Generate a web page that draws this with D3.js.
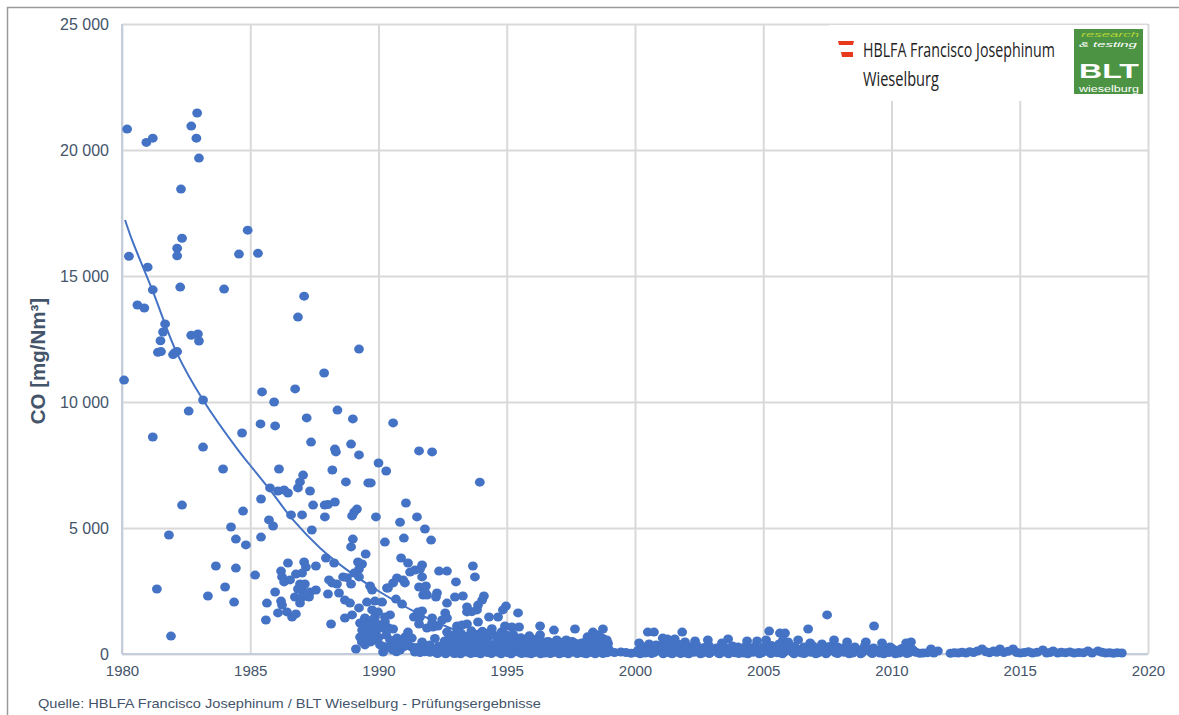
<!DOCTYPE html>
<html>
<head>
<meta charset="utf-8">
<script src="https://cdn.jsdelivr.net/npm/d3@7"></script>
<style>
  html, body { margin: 0; padding: 0; background: #fff; }
  svg { display: block; font-family: "Liberation Sans", Arial, sans-serif; }
</style>
</head>
<body>
<div id="chart"></div>
<script>
// values, [year, CO]
const points1980s = [
  [1980.2,20830],[1980.95,20300],[1981.2,20470],[1982.7,20950],[1982.93,21470],[1982.9,20470],[1983,19680],[1982.3,18450],
  [1984.9,16820],[1982.34,16500],[1984.56,15870],[1985.3,15900],[1982.15,16100],[1982.15,15800],[1980.27,15780],[1981,15350],
  [1981.2,14450],[1982.27,14560],[1983.98,14480],[1987.1,14200],[1980.6,13850],[1980.87,13730],[1986.86,13370],[1981.68,13100],
  [1981.6,12780],[1981.5,12430],[1982.7,12650],[1982.96,12700],[1983,12420],[1981.4,11970],[1981.52,12000],[1981.99,11880],
  [1982.15,12000],[1982.05,11950],[1989.24,12100],[1987.88,11150],[1980.08,10870],[1986.75,10520],[1985.46,10400],[1985.93,10000],
  [1983.16,10080],[1982.6,9640],[1988.4,9680],[1989,9330],[1987.2,9370],[1990.57,9170],[1985.4,9130],[1985.97,9050],
  [1984.68,8770],[1981.2,8610],[1987.37,8410],[1988.93,8330],[1983.16,8210],[1988.3,8130],[1988.34,8020],[1989.24,7900],
  [1991.58,8060],[1992.09,8020],[1990,7580],[1990.3,7260],[1986.12,7340],[1983.94,7340],[1988.2,7300],[1993.95,6820]
];
const pointsMiddle = [
  [1982.34,5910],[1984.72,5670],[1985.42,6150],[1985.77,6590],[1986.08,6470],[1986.32,6510],[1986.47,6390],[1986.86,6590],
  [1986.94,6830],[1987.06,7100],[1987.33,6470],[1987.45,5910],[1988.73,6830],[1989.6,6790],[1989.7,6790],[1987.9,5910],
  [1988.03,5930],[1988.3,6030],[1989.16,5750],[1989.05,5630],[1988.97,5480],[1989.9,5440],[1986.59,5520],[1987.02,5520],
  [1987.91,5440],[1985.73,5320],[1985.89,5080],[1987.4,4920],[1984.25,5040],[1981.83,4720],[1984.44,4560],[1984.83,4330],
  [1985.42,4640],[1989,4560],[1988.93,4250],[1989.5,3970],[1990.25,4440],[1987.95,3810],[1988.27,3610],[1989.2,3650],
  [1989.36,3570],[1989.24,3370],[1989.05,3210],[1989.24,3060],[1988.62,3060],[1988.77,3030],[1983.66,3490],[1984.44,3410],
  [1985.19,3130],[1986.47,3610],[1987.1,3650],[1987.17,3450],[1987.56,3490],[1986.2,3290],[1986.24,3060],[1986.32,2860],
  [1986.55,2940],[1986.78,3170],[1987.02,3210],[1988.07,2940],[1988.19,2820],[1988.38,2780],[1988.93,2780],[1989.67,2700],
  [1989.75,2540],[1990.33,2620],[1986.94,2780],[1987.13,2780],[1986.86,2580],[1987.02,2540],[1987.56,2540],[1987.33,2460],
  [1987.29,2260],[1986.74,2260],[1986.94,2020],[1987.02,2260],[1985.97,2460],[1986.2,2100],[1986.24,1940],[1985.65,2020],
  [1986.08,1630],[1986.43,1670],[1986.63,1470],[1986.78,1590],[1985.61,1350],[1988.03,2380],[1988.46,2420],[1988.69,2140],
  [1988.89,2020],[1989.24,1830],[1989.55,2060],[1989.86,2100],[1990.14,2060],[1988.97,1550],[1988.69,1430],[1988.15,1190],
  [1989.12,200],[1984.02,2660],[1981.36,2580],[1983.35,2300],[1984.37,2060],[1981.91,710],
  [1991.07,5990],[1991.5,5440],[1991.81,4960],[1992.05,4520],[1990.99,4600],[1990.84,5230]
];
const points1990s = [
  [1990.88,3810],[1991.15,3610],[1991.7,3530],[1991.62,3370],[1991.23,3250],[1991.42,3330],[1991.7,3060],[1992.36,3290],
  [1992.67,3290],[1993.68,3490],[1993.76,3060],[1993.02,2860],[1990.72,3020],[1990.96,2940],[1991.03,2820],[1990.57,2820],
  [1990.37,2620],[1991.58,2660],[1991.85,2700],[1991.81,2460],[1991.74,2340],[1991.89,2340],[1992.28,2420],[1992.24,2260],
  [1992.98,2260],[1993.29,2300],[1994.11,2300],[1994.04,2140],[1993.88,1940],[1993.84,1750],[1993.45,1870],[1993.45,1670],
  [1993.64,1680],[1992.67,2020],[1994.97,1900],[1994.85,1750],[1995.44,1630],[1990.68,2180],[1990.92,1980],[1991.7,1710],
  [1991.54,1670],[1991.38,1470],[1991.62,1470],[1991.58,1190],[1992.09,1430],[1991.89,1030],[1992.12,1070],[1992.32,1110],
  [1992.09,1230],[1992.6,1630],[1992.67,1430],[1992.48,1350],[1992.67,870],[1993.06,1110],[1993.45,1190],[1993.26,1150],
  [1993.88,1270],[1994.31,1470],[1994.66,1470],[1994.93,1110],[1995.2,1070],[1995.48,1070],[1996.3,1110],[1996.84,950],
  [1997.66,990],[1998.75,990],[1998.36,870],
  [1989.47,1430],[1989.86,1470],[1989.75,1750],[1989.98,1670],[1990.45,1550],[1990.25,1470],[1989.28,1230],[1989.55,1150],
  [1989.79,1230],[1990.18,1030],[1990.57,990],[1989.36,950],[1989.75,830],[1989.28,670],[1989.6,670],[1989.47,360],
  [1989.86,560],[1990.06,360],[1990.18,80],[1990.45,560],[1990.72,630],[1990.57,160],[1990.84,160],[1991.15,870],
  [1991.03,670],[1991.3,630],[1991.3,280],[1991.7,480],[1991.42,80],[1992,360],[1991.62,60],[1992,70],
  [1989.4,1000],[1989.5,780],[1989.65,1040],[1989.9,880],[1990,650],[1990.3,750],[1989.7,480],[1990.2,300],
  [1990.4,240],[1990.7,90],[1991.5,260],[1991.85,190],[1992.25,50],[1992.45,90],[1992.6,330],[1992.75,620],
  [1992.9,250],[1993.05,40],[1993.15,600],[1993.3,320],[1993.42,80],[1993.55,680],[1993.68,260],[1993.8,50],
  [1993.95,520],[1994.05,900],[1994.12,240],[1994.25,60],[1994.3,700],[1994.42,1000],[1994.5,380],[1994.62,80],
  [1994.72,620],[1994.85,250],[1994.98,760],[1995.05,50],[1995.15,420],[1995.25,780],[1995.36,210],[1995.48,70],
  [1995.55,640],[1995.68,350],[1995.78,40],[1995.88,720],[1996,300],[1996.08,60],[1996.18,600],[1996.3,760],
  [1996.4,220],[1996.5,40],[1996.62,500],[1996.75,260],[1996.88,70],[1996.98,430],[1997.1,230],[1997.2,50],
  [1997.32,560],[1997.45,300],[1997.58,80],[1997.7,420],[1997.85,190],[1997.98,40],[1998.05,470],[1998.15,680],
  [1998.22,220],[1998.32,60],[1998.42,560],[1998.5,760],[1998.58,310],[1998.66,80],[1998.75,620],[1998.82,260],
  [1998.9,50],[1998.95,420],[1998.98,180]
];
// the solid mass along the bottom, 1989 to 1999
const dense1990s = [
  [1989.35,480],[1989.42,1220],[1989.55,900],[1989.58,540],[1989.72,1330],[1989.95,1180],[1990.25,1280],[1990.38,1040],
  [1990.5,340],[1990.75,420],[1990.9,560],[1991.02,300],[1991.12,420],[1991.55,120],[1991.7,240],[1991.8,90],
  [1991.95,200],[1992.1,110],[1992.2,620],[1992.35,320],[1992.52,140],[1992.58,520],[1992.7,100],[1992.82,420],
  [1992.9,120],[1992.98,780],[1993.08,330],[1993.12,120],[1993.22,820],[1993.25,450],[1993.35,130],[1993.48,470],
  [1993.5,150],[1993.62,920],[1993.65,470],[1993.72,130],[1993.85,420],[1993.88,780],[1994,140],[1994.02,360],
  [1994.15,600],[1994.18,110],[1994.35,380],[1994.38,130],[1994.48,760],[1994.55,180],[1994.68,400],[1994.7,140],
  [1994.8,880],[1994.88,430],[1994.92,120],[1995.02,480],[1995.1,170],[1995.22,560],[1995.28,130],[1995.42,460],
  [1995.45,180],[1995.6,240],[1995.62,120],[1995.72,560],[1995.82,210],[1995.95,480],[1995.98,130],[1996.1,420],
  [1996.15,190],[1996.25,120],[1996.35,520],[1996.45,330],[1996.55,140],[1996.68,360],[1996.72,130],[1996.82,420],
  [1996.92,190],[1997.02,120],[1997.08,400],[1997.15,150],[1997.25,340],[1997.38,180],[1997.42,410],[1997.52,140],
  [1997.65,350],[1997.75,120],[1997.8,310],[1997.92,150],[1998.02,300],[1998.1,120],[1998.18,440],[1998.28,170],
  [1998.38,340],[1998.46,130],[1998.55,480],[1998.62,170],[1998.7,400],[1998.78,120],[1998.86,360],[1998.92,130],
  [1999.02,90],
  [1993.1,610],[1993.38,690],[1993.75,640],[1994.22,810],[1994.58,700],[1994.75,520],[1995.1,680],[1995.32,600],
  [1995.5,520],[1995.8,620],[1996.05,560],[1996.22,450],[1996.55,480],[1996.95,560],[1997.22,480],[1997.55,500],
  [1997.92,440],[1998.25,600],[1998.62,700],[1998.9,560],
  [1992.3,20],[1992.62,10],[1992.95,15],[1993.2,5],[1993.6,15],[1993.98,5],[1994.4,15],[1994.78,10],
  [1995.18,5],[1995.58,15],[1995.95,10],[1996.32,5],[1996.7,15],[1997.05,10],[1997.4,5],[1997.75,15],
  [1998.1,10],[1998.45,5],[1998.75,15]
];
const points2000s = [
  [1999.2,60],[1999.45,80],[1999.65,60],[1999.85,30],[2000.16,440],[2000.5,870],[2000.74,870],[2001.08,630],
  [2001.26,600],[2001.84,870],[2001.55,600],[2001.95,480],[2002.34,520],[2002.84,560],[2003.63,600],[2003.39,440],
  [2004.02,280],[2004.37,520],[2004.76,520],[2005.23,910],[2005.11,560],[2005.65,830],[2005.85,830],[2005.77,560],
  [2005.97,480],[2006.36,560],[2006.75,990],[2006.83,440],[2007.49,1550],[2007.29,400],[2007.76,560],[2008.27,480],
  [2008.57,280],[2009,480],[2009.32,1110],[2009.63,440],[2009.94,280],[2010.57,440],[2010.76,480],[2010.84,160],
  [2011.23,40],[2011.54,200],[2011.81,120],
  [2000.05,60],[2000.25,180],[2000.4,40],[2000.6,280],[2000.75,60],[2000.9,330],[2001.05,90],[2001.2,310],
  [2001.35,50],[2001.5,230],[2001.68,70],[2001.85,300],[2002,40],[2002.15,260],[2002.3,70],[2002.48,210],
  [2002.62,40],[2002.8,250],[2002.95,80],[2003.1,170],[2003.25,40],[2003.4,240],[2003.55,70],[2003.72,220],
  [2003.9,50],[2004.1,120],[2004.25,40],[2004.45,230],[2004.6,70],[2004.78,200],[2004.95,50],[2005.1,260],
  [2005.25,80],[2005.4,220],[2005.55,50],[2005.7,320],[2005.85,100],[2006,250],[2006.15,60],[2006.3,200],
  [2006.5,40],[2006.68,230],[2006.85,70],[2007,240],[2007.15,50],[2007.35,180],[2007.5,70],[2007.65,280],
  [2007.82,50],[2008,220],[2008.15,70],[2008.3,200],[2008.48,40],[2008.7,160],[2008.85,50],[2009.05,230],
  [2009.2,70],[2009.4,160],[2009.55,40],[2009.75,200],[2009.9,60],[2010.1,170],[2010.3,40],[2010.5,150],
  [2010.68,50],[2010.95,70],[2011.1,30],[2011.4,50],[2011.65,40]
];
// same again for the band 2000 to 2011
const dense2000s = [
  [2000.12,150],[2000.3,290],[2000.48,120],[2000.55,400],[2000.68,190],[2000.82,360],[2000.95,140],[2001.12,400],
  [2001.28,170],[2001.42,350],[2001.58,140],[2001.72,380],[2001.92,150],[2002.08,300],[2002.22,170],[2002.4,340],
  [2002.55,130],[2002.7,260],[2002.88,330],[2003.02,150],[2003.18,240],[2003.32,130],[2003.48,280],[2003.62,150],
  [2003.8,320],[2003.98,140],[2004.18,190],[2004.32,310],[2004.52,140],[2004.68,300],[2004.85,130],[2005.02,280],
  [2005.18,160],[2005.32,340],[2005.48,150],[2005.62,400],[2005.78,180],[2005.92,340],[2006.08,150],[2006.22,300],
  [2006.4,130],[2006.58,280],[2006.76,150],[2006.92,330],[2007.08,150],[2007.22,280],[2007.42,130],[2007.58,300],
  [2007.72,160],[2007.9,280],[2008.08,140],[2008.22,290],[2008.4,130],[2008.6,150],[2008.78,130],[2008.95,300],
  [2009.12,140],[2009.3,240],[2009.48,120],[2009.68,280],[2009.82,130],[2010,240],[2010.2,130],[2010.4,220],
  [2010.6,140],[2010.75,250],
  [2000.2,10],[2000.65,15],[2001.1,5],[2001.45,10],[2001.78,15],[2002.1,5],[2002.55,10],[2002.9,15],
  [2003.3,5],[2003.65,10],[2004.05,15],[2004.4,5],[2004.85,10],[2005.3,15],[2005.75,5],[2006.2,10],
  [2006.6,15],[2007.05,5],[2007.45,10],[2007.9,15],[2008.35,5],[2008.8,10],[2009.25,15],[2009.7,5],
  [2010.15,10],[2010.6,15]
];
const points2010s = [
  [2012.3,30],[2012.45,50],[2012.6,40],[2012.75,70],[2012.9,40],[2013.05,90],[2013.2,60],[2013.35,120],
  [2013.53,200],[2013.68,90],[2013.82,50],[2013.98,120],[2014.1,70],[2014.23,200],[2014.38,60],[2014.55,110],
  [2014.74,200],[2014.88,60],[2015.02,40],[2015.18,60],[2015.34,90],[2015.5,40],[2015.68,70],[2015.9,160],
  [2016.05,40],[2016.18,60],[2016.3,120],[2016.48,40],[2016.62,70],[2016.78,50],[2016.95,80],[2017.12,40],
  [2017.3,60],[2017.48,50],[2017.66,120],[2017.82,40],[2018.05,120],[2018.2,70],[2018.35,40],[2018.5,50],
  [2018.65,30],[2018.8,50],[2018.98,40]
];
const trendYears = [1980.12,1980.39,1981.17,1982.14,1983.16,1984.52,1984.99,1985.77,1986.67,1987.72,1988.89,1990.06,1991.5,1992.79,1993.88,1994.3];
const trendValues = [17220,16430,14480,11940,10080,8100,7500,6510,5320,4210,3250,2460,1630,1030,670,520];
const xTicks = [1980,1985,1990,1995,2000,2005,2010,2015,2020];
const yTicks = [0,5000,10000,15000,20000,25000];

const width = 1179, height = 715;
const plotLeft = 122, plotRight = 1148, plotTop = 24, plotBottom = 654;
const blue = "#4472c4", slate = "#44546a";

const svg = d3.select("#chart").append("svg")
  .attr("width", width)
  .attr("height", height);

// frame of the original screenshot
svg.append("path")
  .attr("d", `M7.5,${height}V7.5H${width}`)
  .attr("fill", "none")
  .attr("stroke", "#9a9a9a")
  .attr("stroke-width", 1.5);

const x = d3.scaleLinear().domain([1980, 2020]).range([plotLeft, plotRight]);
const y = d3.scaleLinear().domain([0, 25000]).range([plotBottom, plotTop]);

// grid comes from the axes, long ticks
const xAxis = svg.append("g")
  .attr("transform", `translate(0,${plotBottom})`)
  .call(d3.axisBottom(x).tickValues(xTicks).tickFormat(d3.format("d")).tickSize(-(plotBottom - plotTop)).tickPadding(11));
const yAxis = svg.append("g")
  .attr("transform", `translate(${plotLeft},0)`)
  .call(d3.axisLeft(y).tickValues(yTicks).tickFormat(d => d3.format(",")(d).replace(",", " ")).tickSize(-(plotRight - plotLeft)).tickPadding(13));

[xAxis, yAxis].forEach(a => {
  a.select(".domain").remove();
  a.selectAll("line").attr("stroke", "#d9d9d9").attr("stroke-width", 2);
  a.selectAll("text").attr("fill", slate).attr("font-size", 16).attr("font-family", '"Liberation Sans", Arial, sans-serif');
});
xAxis.selectAll("text").attr("font-size", 15);

// axis lines on left and bottom are bluish
svg.append("line").attr("x1", x(1980)).attr("x2", x(1980)).attr("y1", y(25000)).attr("y2", y(0)).attr("stroke", "#c3cddd").attr("stroke-width", 2);
svg.append("line").attr("x1", x(1980)).attr("x2", x(2020)).attr("y1", y(0)).attr("y2", y(0)).attr("stroke", "#c3cddd").attr("stroke-width", 2);

// scatter
const allPoints = [...points1980s, ...pointsMiddle, ...points1990s, ...dense1990s, ...points2000s, ...dense2000s, ...points2010s];
svg.append("g").selectAll("ellipse")
  .data(allPoints)
  .enter().append("ellipse")
  .attr("cx", d => x(d[0]))
  .attr("cy", d => y(d[1]))
  .attr("rx", 4.9)
  .attr("ry", 4.5)
  .attr("fill", blue);

// trend line
const line = d3.line()
  .x(i => x(trendYears[i]))
  .y(i => y(trendValues[i]))
  .curve(d3.curveCatmullRom);
svg.append("path")
  .attr("d", line(d3.range(trendYears.length)))
  .attr("fill", "none")
  .attr("stroke", blue)
  .attr("stroke-width", 2);

// axis title
svg.append("text")
  .attr("transform", "translate(45,361) rotate(-90)")
  .attr("text-anchor", "middle")
  .attr("font-weight", "bold")
  .attr("font-size", 20.5)
  .attr("fill", slate)
  .text("CO [mg/Nm³]");

// source line
svg.append("text")
  .attr("x", 38)
  .attr("y", 708)
  .attr("font-size", 13.5)
  .attr("fill", slate)
  .attr("textLength", 503)
  .attr("lengthAdjust", "spacingAndGlyphs")
  .text("Quelle: HBLFA Francisco Josephinum / BLT Wieselburg - Prüfungsergebnisse");

// logo block on top of the grid
svg.append("rect").attr("x", 829).attr("y", 25).attr("width", 318).attr("height", 76).attr("fill", "#fff");
svg.append("path").attr("d", "M838,41H854L853,45H839Z").attr("fill", "#e8391d");
svg.append("path").attr("d", "M841,52H853L853,57H842Z").attr("fill", "#e8391d");

// logo text squeezed to a target width with a real scale, so its box stays where it shows
function logoText(str, px, py, targetWidth, size, fill, family, extra) {
  const t = svg.append("text")
    .attr("font-family", family)
    .attr("font-size", size)
    .attr("fill", fill)
    .text(str);
  if (extra) extra(t);
  const natural = t.node().getComputedTextLength();
  t.attr("transform", `translate(${px},${py}) scale(${targetWidth / natural},1)`);
}

const logoFont = '"Open Sans", sans-serif';
const boxFont = '"Liberation Sans", Arial, sans-serif';
logoText("HBLFA Francisco Josephinum", 863, 57, 192, 20, "#222", logoFont);
logoText("Wieselburg", 863, 86, 76, 20, "#222", logoFont);

svg.append("rect").attr("x", 1074).attr("y", 29).attr("width", 69).attr("height", 65).attr("fill", "#4c9444");
logoText("research", 1081, 36.5, 58, 8, "#b5d334", boxFont, t => t.attr("font-style", "italic"));
logoText("& testing", 1079, 47, 58, 8, "#fff", boxFont, t => t.attr("font-style", "italic"));
logoText("BLT", 1079, 78, 60, 20, "#fff", boxFont, t => t.attr("font-weight", "bold"));
logoText("wieselburg", 1079, 92, 60, 9, "#fff", boxFont);
</script>
</body>
</html>
